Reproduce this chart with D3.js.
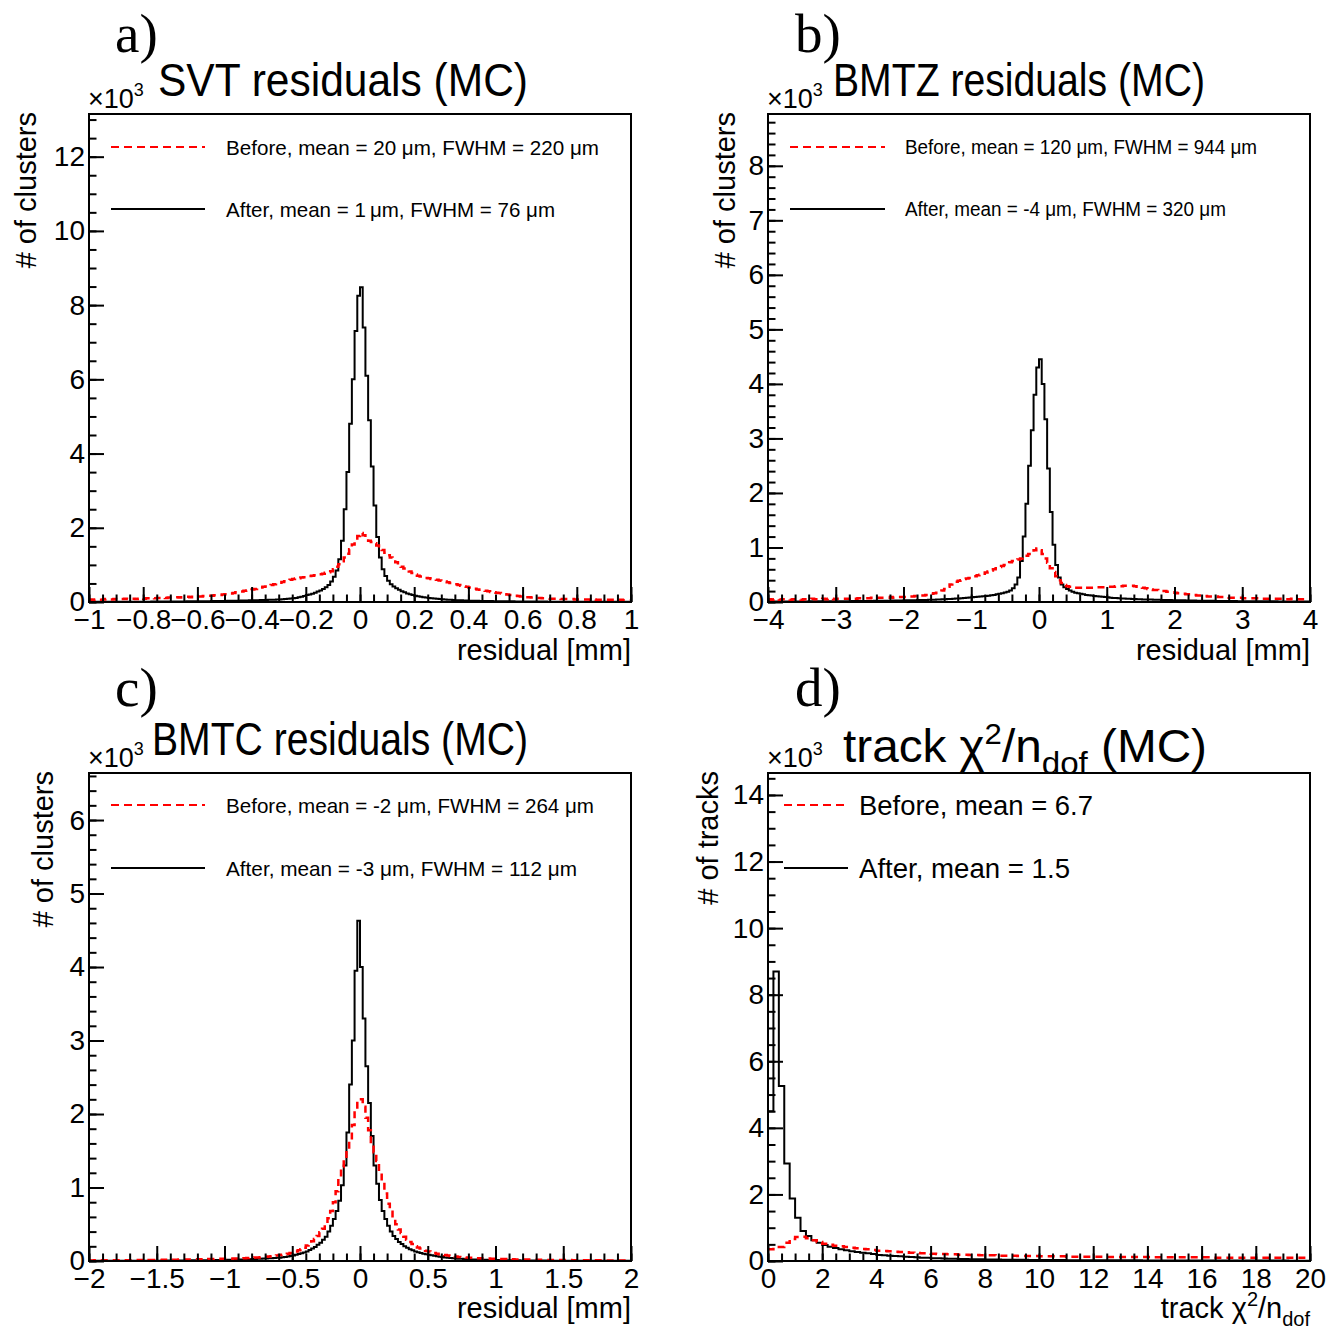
<!DOCTYPE html>
<html><head><meta charset="utf-8">
<script src="https://cdn.jsdelivr.net/npm/d3@7"></script>
<style>
body{margin:0;background:#fff}
text{fill:#000}
</style>
</head><body>
<svg id="chart" width="1335" height="1330" xmlns="http://www.w3.org/2000/svg"></svg>
<script>
// ---------------- DATA (counts in units of 10^3) ----------------
// a) SVT residuals, 200 bins from -1 to 1 mm
const svtBefore = [
0.07,0.06,0.07,0.07,0.06,0.07,0.08,0.07,0.07,0.08,
0.07,0.08,0.08,0.09,0.08,0.09,0.09,0.08,0.09,0.1,
0.09,0.1,0.1,0.11,0.1,0.11,0.11,0.12,0.11,0.12,
0.12,0.12,0.13,0.12,0.13,0.13,0.14,0.13,0.14,0.14,
0.15,0.15,0.16,0.16,0.17,0.17,0.18,0.19,0.19,0.2,
0.21,0.22,0.23,0.24,0.26,0.27,0.28,0.3,0.31,0.32,
0.34,0.35,0.37,0.39,0.41,0.42,0.44,0.46,0.48,0.5,
0.52,0.54,0.56,0.58,0.6,0.62,0.63,0.64,0.66,0.67,
0.69,0.7,0.71,0.72,0.73,0.75,0.76,0.79,0.8,0.83,
0.88,0.95,1.02,1.1,1.2,1.3,1.42,1.55,1.65,1.78,
1.86,1.8,1.72,1.65,1.62,1.58,1.52,1.46,1.4,1.33,
1.26,1.2,1.13,1.07,1.0,0.95,0.9,0.86,0.82,0.78,
0.74,0.71,0.69,0.67,0.65,0.64,0.62,0.61,0.6,0.58,
0.57,0.55,0.53,0.51,0.5,0.48,0.46,0.44,0.42,0.41,
0.39,0.37,0.36,0.34,0.33,0.31,0.3,0.29,0.27,0.26,
0.25,0.24,0.23,0.21,0.2,0.19,0.18,0.17,0.16,0.15,
0.14,0.13,0.13,0.12,0.12,0.11,0.11,0.1,0.1,0.1,
0.09,0.09,0.09,0.09,0.08,0.08,0.08,0.08,0.08,0.07,
0.07,0.07,0.07,0.07,0.07,0.06,0.07,0.06,0.06,0.06,
0.06,0.06,0.06,0.06,0.06,0.05,0.06,0.05,0.05,0.05];
const svtAfter = [
0.005,0.005,0.006,0.005,0.006,0.006,0.006,0.007,0.006,0.007,
0.007,0.007,0.008,0.007,0.008,0.008,0.009,0.008,0.009,0.009,
0.01,0.01,0.01,0.011,0.011,0.012,0.012,0.012,0.013,0.013,
0.014,0.014,0.015,0.015,0.016,0.016,0.017,0.017,0.018,0.019,
0.02,0.02,0.021,0.022,0.023,0.024,0.025,0.026,0.027,0.028,
0.03,0.031,0.032,0.034,0.035,0.037,0.038,0.04,0.042,0.044,
0.046,0.048,0.05,0.052,0.054,0.056,0.058,0.061,0.064,0.067,
0.07,0.075,0.08,0.086,0.093,0.1,0.11,0.125,0.14,0.165,
0.19,0.2,0.22,0.25,0.28,0.31,0.35,0.4,0.46,0.55,
0.68,0.85,1.15,1.65,2.5,3.5,4.8,6.0,7.3,8.25,
8.48,7.4,6.1,4.9,3.65,2.6,1.75,1.2,0.88,0.7,
0.57,0.48,0.42,0.37,0.33,0.29,0.26,0.23,0.21,0.19,
0.17,0.155,0.14,0.13,0.12,0.11,0.1,0.092,0.085,0.078,
0.072,0.067,0.062,0.058,0.054,0.05,0.047,0.044,0.041,0.039,
0.037,0.035,0.033,0.031,0.029,0.028,0.026,0.025,0.024,0.023,
0.022,0.021,0.02,0.019,0.018,0.017,0.017,0.016,0.015,0.015,
0.014,0.014,0.013,0.013,0.012,0.012,0.011,0.011,0.011,0.01,
0.01,0.01,0.009,0.009,0.009,0.008,0.008,0.008,0.008,0.007,
0.007,0.007,0.007,0.007,0.006,0.006,0.006,0.006,0.006,0.006,
0.005,0.005,0.005,0.005,0.005,0.005,0.005,0.005,0.005,0.005];

// b) BMTZ residuals, 200 bins from -4 to 4 mm
const bmtzBefore = [
0.05,0.04,0.05,0.05,0.04,0.05,0.05,0.05,0.04,0.05,
0.05,0.05,0.04,0.05,0.05,0.05,0.06,0.05,0.05,0.05,
0.06,0.05,0.06,0.06,0.05,0.06,0.06,0.06,0.06,0.06,
0.06,0.07,0.06,0.07,0.07,0.07,0.07,0.07,0.08,0.07,
0.08,0.08,0.08,0.08,0.08,0.09,0.08,0.09,0.09,0.09,
0.09,0.1,0.1,0.1,0.11,0.11,0.12,0.12,0.13,0.14,
0.15,0.16,0.17,0.19,0.21,0.24,0.28,0.32,0.35,0.37,
0.39,0.4,0.42,0.43,0.44,0.46,0.47,0.49,0.5,0.52,
0.54,0.56,0.58,0.6,0.62,0.64,0.66,0.68,0.7,0.73,
0.75,0.76,0.78,0.8,0.82,0.85,0.88,0.9,0.95,0.98,
0.95,0.88,0.8,0.72,0.62,0.55,0.47,0.4,0.35,0.31,
0.29,0.28,0.27,0.26,0.26,0.26,0.25,0.26,0.26,0.26,
0.26,0.27,0.27,0.27,0.27,0.28,0.28,0.28,0.29,0.29,
0.29,0.3,0.3,0.3,0.3,0.29,0.28,0.27,0.26,0.25,
0.24,0.23,0.22,0.22,0.21,0.2,0.2,0.19,0.18,0.18,
0.17,0.16,0.16,0.15,0.14,0.14,0.13,0.13,0.12,0.12,
0.11,0.11,0.1,0.1,0.1,0.1,0.09,0.09,0.09,0.09,
0.08,0.08,0.08,0.08,0.08,0.07,0.07,0.07,0.07,0.07,
0.07,0.07,0.06,0.06,0.06,0.06,0.06,0.06,0.06,0.06,
0.06,0.05,0.05,0.06,0.05,0.05,0.05,0.05,0.05,0.05];
const bmtzAfter = [
0.01,0.01,0.01,0.01,0.01,0.01,0.01,0.01,0.01,0.01,
0.01,0.01,0.01,0.01,0.01,0.012,0.012,0.012,0.012,0.012,
0.013,0.013,0.013,0.014,0.014,0.014,0.015,0.015,0.015,0.016,
0.016,0.017,0.017,0.018,0.018,0.019,0.019,0.02,0.02,0.021,
0.022,0.022,0.023,0.024,0.024,0.025,0.026,0.027,0.028,0.029,
0.03,0.031,0.032,0.033,0.034,0.035,0.036,0.037,0.038,0.04,
0.041,0.043,0.045,0.047,0.049,0.051,0.054,0.057,0.06,0.063,
0.066,0.07,0.074,0.078,0.082,0.086,0.09,0.095,0.1,0.105,
0.11,0.116,0.122,0.13,0.14,0.15,0.16,0.175,0.19,0.21,
0.25,0.32,0.45,0.75,1.2,1.8,2.5,3.15,3.8,4.3,
4.45,4.0,3.35,2.45,1.65,1.05,0.68,0.45,0.32,0.27,
0.24,0.21,0.19,0.17,0.16,0.15,0.14,0.13,0.125,0.12,
0.11,0.105,0.1,0.095,0.09,0.085,0.08,0.075,0.072,0.069,
0.066,0.063,0.06,0.058,0.056,0.054,0.052,0.05,0.048,0.047,
0.045,0.044,0.042,0.041,0.04,0.038,0.037,0.036,0.035,0.034,
0.033,0.032,0.031,0.03,0.029,0.028,0.027,0.026,0.025,0.025,
0.024,0.023,0.022,0.022,0.021,0.02,0.02,0.019,0.019,0.018,
0.018,0.017,0.017,0.016,0.016,0.015,0.015,0.015,0.014,0.014,
0.014,0.013,0.013,0.013,0.012,0.012,0.012,0.012,0.011,0.011,
0.011,0.011,0.01,0.01,0.01,0.01,0.01,0.01,0.01,0.01];

// c) BMTC residuals, 200 bins from -2 to 2 mm
const bmtcBefore = [
0.008,0.008,0.009,0.008,0.009,0.009,0.009,0.009,0.01,0.01,
0.01,0.01,0.01,0.011,0.011,0.011,0.012,0.012,0.012,0.013,
0.013,0.013,0.014,0.014,0.015,0.015,0.015,0.016,0.016,0.017,
0.017,0.018,0.018,0.019,0.019,0.02,0.02,0.021,0.022,0.022,
0.023,0.024,0.024,0.025,0.026,0.027,0.028,0.029,0.03,0.03,
0.03,0.031,0.032,0.033,0.034,0.036,0.037,0.039,0.04,0.042,
0.045,0.047,0.049,0.052,0.055,0.058,0.062,0.066,0.07,0.075,
0.08,0.086,0.093,0.1,0.108,0.118,0.13,0.145,0.16,0.18,
0.21,0.24,0.27,0.3,0.34,0.39,0.44,0.5,0.58,0.68,
0.8,0.95,1.12,1.28,1.38,1.5,1.65,1.85,2.05,2.2,
2.2,2.1,1.95,1.78,1.62,1.48,1.36,1.22,1.07,0.92,
0.78,0.67,0.58,0.5,0.43,0.38,0.33,0.29,0.26,0.23,
0.2,0.185,0.17,0.155,0.14,0.13,0.12,0.11,0.1,0.093,
0.086,0.08,0.074,0.069,0.064,0.06,0.056,0.053,0.05,0.047,
0.045,0.043,0.041,0.039,0.037,0.035,0.034,0.033,0.031,0.03,
0.029,0.028,0.027,0.026,0.025,0.024,0.023,0.022,0.021,0.021,
0.02,0.019,0.019,0.018,0.018,0.017,0.016,0.016,0.015,0.015,
0.014,0.014,0.014,0.013,0.013,0.012,0.012,0.012,0.011,0.011,
0.011,0.01,0.01,0.01,0.01,0.009,0.009,0.009,0.009,0.009,
0.008,0.008,0.008,0.008,0.008,0.008,0.008,0.008,0.008,0.008];
const bmtcAfter = [
0.003,0.003,0.003,0.003,0.003,0.003,0.003,0.003,0.003,0.003,
0.004,0.004,0.004,0.004,0.004,0.004,0.004,0.004,0.004,0.004,
0.004,0.004,0.005,0.005,0.005,0.005,0.005,0.005,0.006,0.006,
0.006,0.006,0.007,0.007,0.007,0.008,0.008,0.008,0.009,0.009,
0.01,0.01,0.011,0.011,0.012,0.012,0.013,0.013,0.014,0.015,
0.015,0.016,0.017,0.018,0.019,0.02,0.021,0.022,0.023,0.025,
0.026,0.028,0.029,0.031,0.033,0.035,0.037,0.039,0.041,0.043,
0.045,0.05,0.055,0.06,0.067,0.075,0.084,0.094,0.105,0.117,
0.13,0.15,0.17,0.19,0.22,0.25,0.29,0.33,0.4,0.48,
0.57,0.68,0.82,1.03,1.3,1.75,2.4,3.0,3.95,4.63,
4.0,3.3,2.65,2.15,1.7,1.3,1.05,0.83,0.68,0.57,
0.48,0.4,0.34,0.3,0.26,0.23,0.2,0.18,0.16,0.145,
0.13,0.12,0.11,0.1,0.092,0.085,0.078,0.071,0.065,0.059,
0.054,0.049,0.045,0.041,0.038,0.035,0.032,0.03,0.028,0.026,
0.024,0.022,0.021,0.019,0.018,0.017,0.016,0.015,0.014,0.013,
0.013,0.012,0.011,0.011,0.01,0.01,0.009,0.009,0.009,0.008,
0.008,0.007,0.007,0.007,0.007,0.006,0.006,0.006,0.006,0.005,
0.005,0.005,0.005,0.005,0.005,0.005,0.005,0.005,0.005,0.005,
0.004,0.004,0.004,0.004,0.004,0.004,0.004,0.004,0.004,0.004,
0.004,0.004,0.003,0.003,0.003,0.003,0.003,0.003,0.003,0.003];

// d) track chi2/ndof, 100 bins from 0 to 20
const chi2Before = [
0.35,0.36,0.42,0.55,0.66,0.72,0.73,0.68,0.62,0.57,
0.52,0.49,0.46,0.44,0.42,0.4,0.38,0.36,0.35,0.33,
0.31,0.3,0.29,0.28,0.27,0.26,0.25,0.24,0.23,0.23,
0.22,0.21,0.21,0.2,0.2,0.19,0.19,0.18,0.18,0.17,
0.17,0.17,0.16,0.16,0.16,0.16,0.15,0.15,0.15,0.15,
0.14,0.14,0.14,0.14,0.14,0.13,0.13,0.13,0.13,0.13,
0.13,0.13,0.12,0.12,0.12,0.12,0.12,0.12,0.12,0.12,
0.12,0.11,0.11,0.11,0.11,0.11,0.11,0.11,0.11,0.11,
0.11,0.11,0.1,0.1,0.1,0.1,0.1,0.1,0.1,0.1,
0.1,0.1,0.1,0.1,0.1,0.1,0.1,0.1,0.1,0.1];
const chi2After = [
4.5,8.7,5.26,2.93,1.88,1.3,0.9,0.75,0.62,0.55,
0.48,0.43,0.39,0.35,0.32,0.29,0.27,0.25,0.23,0.21,
0.18,0.17,0.16,0.15,0.14,0.13,0.12,0.11,0.1,0.095,
0.085,0.08,0.075,0.07,0.066,0.062,0.058,0.055,0.052,0.05,
0.047,0.045,0.043,0.041,0.039,0.037,0.036,0.034,0.033,0.032,
0.031,0.03,0.029,0.028,0.027,0.026,0.025,0.025,0.024,0.023,
0.023,0.022,0.022,0.021,0.021,0.02,0.02,0.019,0.019,0.018,
0.018,0.018,0.017,0.017,0.017,0.016,0.016,0.016,0.015,0.015,
0.015,0.015,0.014,0.014,0.014,0.014,0.013,0.013,0.013,0.013,
0.013,0.012,0.012,0.012,0.012,0.012,0.011,0.011,0.011,0.011];

// tick values and labels
const svtXTicks  = [-1,-0.8,-0.6,-0.4,-0.2,0,0.2,0.4,0.6,0.8,1];
const svtXLabels = ["\u22121","\u22120.8","\u22120.6","\u22120.4","\u22120.2","0","0.2","0.4","0.6","0.8","1"];
const svtYTicks  = [0,2,4,6,8,10,12];
const bmtzXTicks  = [-4,-3,-2,-1,0,1,2,3,4];
const bmtzXLabels = ["\u22124","\u22123","\u22122","\u22121","0","1","2","3","4"];
const bmtzYTicks  = [0,1,2,3,4,5,6,7,8];
const bmtcXTicks  = [-2,-1.5,-1,-0.5,0,0.5,1,1.5,2];
const bmtcXLabels = ["\u22122","\u22121.5","\u22121","\u22120.5","0","0.5","1","1.5","2"];
const bmtcYTicks  = [0,1,2,3,4,5,6];
const chi2XTicks  = [0,2,4,6,8,10,12,14,16,18,20];
const chi2XLabels = ["0","2","4","6","8","10","12","14","16","18","20"];
const chi2YTicks  = [0,2,4,6,8,10,12,14];

const legendA = ["Before, mean = 20 \u03bcm, FWHM = 220 \u03bcm", "After, mean = 1\u2009\u03bcm, FWHM = 76 \u03bcm"];
const legendB = ["Before, mean = 120 \u03bcm, FWHM = 944 \u03bcm", "After, mean = -4 \u03bcm, FWHM = 320 \u03bcm"];
const legendC = ["Before, mean = -2 \u03bcm, FWHM = 264 \u03bcm", "After, mean = -3 \u03bcm, FWHM = 112 \u03bcm"];
const legendD = ["Before, mean = 6.7", "After, mean = 1.5"];

// ---------------- LAYOUT ----------------
const SANS = '"Liberation Sans",Arial,Helvetica,sans-serif';
const SERIF = '"Liberation Serif","Times New Roman",serif';
const panels = [
 {letter:"a)", lx:115, ly:52, title:"SVT residuals (MC)", tx:158, ty:96, tw:370,
  left:89,right:631,top:114,bottom:602, xDom:[-1,1], yMax:13.15,
  xTicks:svtXTicks, xLabels:svtXLabels, xMinor:0.05, yTicks:svtYTicks, yMinor:0.5,
  before:svtBefore, after:svtAfter, ytitle:"# of clusters", ytx:36,
  xtitle:"residual [mm]", xty:660,
  legend:legendA, legFont:21, legLine:[111,205], legText:226, legY:[147,209], legW:[373,329]},
 {letter:"b)", lx:795, ly:52, title:"BMTZ residuals (MC)", tx:833, ty:96, tw:372,
  left:768,right:1310,top:114,bottom:602, xDom:[-4,4], yMax:8.95,
  xTicks:bmtzXTicks, xLabels:bmtzXLabels, xMinor:0.2, yTicks:bmtzYTicks, yMinor:0.2,
  before:bmtzBefore, after:bmtzAfter, ytitle:"# of clusters", ytx:735,
  xtitle:"residual [mm]", xty:660,
  legend:legendB, legFont:19.5, legLine:[790,885], legText:905, legY:[147,209], legW:[352,321]},
 {letter:"c)", lx:115, ly:706, title:"BMTC residuals (MC)", tx:152, ty:755, tw:376,
  left:89,right:631,top:773,bottom:1261, xDom:[-2,2], yMax:6.64,
  xTicks:bmtcXTicks, xLabels:bmtcXLabels, xMinor:0.1, yTicks:bmtcYTicks, yMinor:0.2,
  before:bmtcBefore, after:bmtcAfter, ytitle:"# of clusters", ytx:53,
  xtitle:"residual [mm]", xty:1318,
  legend:legendC, legFont:21, legLine:[111,205], legText:226, legY:[805,868], legW:[368,351]},
 {letter:"d)", lx:795, ly:706, title:null, tx:843, ty:762, tw:364,
  left:768,right:1310,top:773,bottom:1261, xDom:[0,20], yMax:14.66,
  xTicks:chi2XTicks, xLabels:chi2XLabels, xMinor:0.5, yTicks:chi2YTicks, yMinor:0.5,
  before:chi2Before, after:chi2After, ytitle:"# of tracks", ytx:718,
  xtitle:null, xty:1318,
  legend:legendD, legFont:27, legLine:[784,848], legText:859, legY:[805,868], legW:[234,211]}
];

const svg = d3.select("#chart");
const defs = svg.append("defs");

panels.forEach((p, k) => {
  const x = d3.scaleLinear().domain(p.xDom).range([p.left, p.right]);
  const y = d3.scaleLinear().domain([0, p.yMax]).range([p.bottom, p.top]);

  defs.append("clipPath").attr("id", "clip" + k)
    .append("rect").attr("x", p.left).attr("y", p.top)
    .attr("width", p.right - p.left).attr("height", p.bottom - p.top);

  // histograms
  const stepLine = d3.line().x(d => x(d[0])).y(d => y(d[1])).curve(d3.curveStepAfter);
  const toPts = vals => {
    const n = vals.length, w = (p.xDom[1] - p.xDom[0]) / n;
    const pts = vals.map((v, i) => [p.xDom[0] + i * w, v]);
    pts.push([p.xDom[1], vals[n - 1]]);
    return pts;
  };
  const hg = svg.append("g").attr("clip-path", `url(#clip${k})`);
  hg.append("path").attr("d", stepLine(toPts(p.after)))
    .attr("fill", "none").attr("stroke", "#000").attr("stroke-width", 2);
  hg.append("path").attr("d", stepLine(toPts(p.before)))
    .attr("fill", "none").attr("stroke", "#ff0000").attr("stroke-width", 2.5)
    .attr("stroke-dasharray", "7,5");

  // axes (ticks inside frame)
  const styleAxis = g => {
    g.select(".domain").remove();
    g.selectAll("line").attr("stroke", "#000").attr("stroke-width", 2);
    g.selectAll("text").style("font-family", SANS)
      .style("font-size", "28px").attr("fill", "#000");
  };
  const xMinorVals = d3.range(p.xDom[0], p.xDom[1] + 1e-9, p.xMinor);
  const yMinorVals = d3.range(0, p.yMax + 1e-9, p.yMinor);
  svg.append("g").attr("transform", `translate(0,${p.bottom})`)
    .call(d3.axisBottom(x).tickValues(xMinorVals).tickSize(-7.5).tickFormat(""))
    .call(styleAxis);
  svg.append("g").attr("transform", `translate(0,${p.bottom})`)
    .call(d3.axisBottom(x).tickValues(p.xTicks).tickSize(-15).tickPadding(7)
      .tickFormat((d, i) => p.xLabels[i]))
    .call(styleAxis);
  svg.append("g").attr("transform", `translate(${p.left},0)`)
    .call(d3.axisLeft(y).tickValues(yMinorVals).tickSize(-7.5).tickFormat(""))
    .call(styleAxis);
  svg.append("g").attr("transform", `translate(${p.left},0)`)
    .call(d3.axisLeft(y).tickValues(p.yTicks).tickSize(-15).tickPadding(4)
      .tickFormat(d3.format("d")))
    .call(styleAxis);

  // frame
  svg.append("rect").attr("x", p.left).attr("y", p.top)
    .attr("width", p.right - p.left).attr("height", p.bottom - p.top)
    .attr("fill", "none").attr("stroke", "#000").attr("stroke-width", 2);

  const txt = (xx, yy, size, fam) => svg.append("text").attr("x", xx).attr("y", yy)
    .style("font-family", fam || SANS).style("font-size", size + "px");

  // x10^3
  const mult = txt(p.left - 1, p.top - 6, 27);
  mult.append("tspan").text("\u00d710");
  mult.append("tspan").style("font-size", "18px").attr("dy", -12).text("3");

  // letter label
  txt(p.lx, p.ly, 55, SERIF).text(p.letter);

  // title
  if (p.title) {
    txt(p.tx, p.ty, 46).attr("textLength", p.tw).attr("lengthAdjust", "spacingAndGlyphs")
      .text(p.title);
  } else {
    const t = txt(p.tx, p.ty, 46).attr("textLength", p.tw).attr("lengthAdjust", "spacingAndGlyphs");
    t.append("tspan").text("track \u03c7");
    t.append("tspan").style("font-size", "30px").attr("dy", -18).text("2");
    t.append("tspan").attr("dy", 18).text("/n");
    t.append("tspan").style("font-size", "32px").attr("dy", 12).text("dof");
    t.append("tspan").attr("dy", -12).text(" (MC)");
  }

  // y title
  svg.append("text").attr("transform", `translate(${p.ytx},${p.top - 2}) rotate(-90)`)
    .attr("text-anchor", "end").style("font-family", SANS).style("font-size", "29px")
    .text(p.ytitle);

  // x title
  if (p.xtitle) {
    txt(p.right, p.xty, 29).attr("text-anchor", "end").text(p.xtitle);
  } else {
    const t = txt(p.right, p.xty, 29).attr("text-anchor", "end");
    t.append("tspan").text("track \u03c7");
    t.append("tspan").style("font-size", "20px").attr("dy", -12).text("2");
    t.append("tspan").attr("dy", 12).text("/n");
    t.append("tspan").style("font-size", "20px").attr("dy", 8).text("dof");
  }

  // legend
  const styles = [{c:"#ff0000", dash:"8,5"}, {c:"#000", dash:null}];
  p.legend.forEach((lab, j) => {
    const ly = p.legY[j];
    const ln = svg.append("line").attr("x1", p.legLine[0]).attr("x2", p.legLine[1])
      .attr("y1", ly).attr("y2", ly).attr("stroke", styles[j].c).attr("stroke-width", 2);
    if (styles[j].dash) ln.attr("stroke-dasharray", styles[j].dash);
    txt(p.legText, ly + p.legFont * 0.36, p.legFont)
      .attr("textLength", p.legW[j]).attr("lengthAdjust", "spacingAndGlyphs").text(lab);
  });
});
</script>
</body></html>
